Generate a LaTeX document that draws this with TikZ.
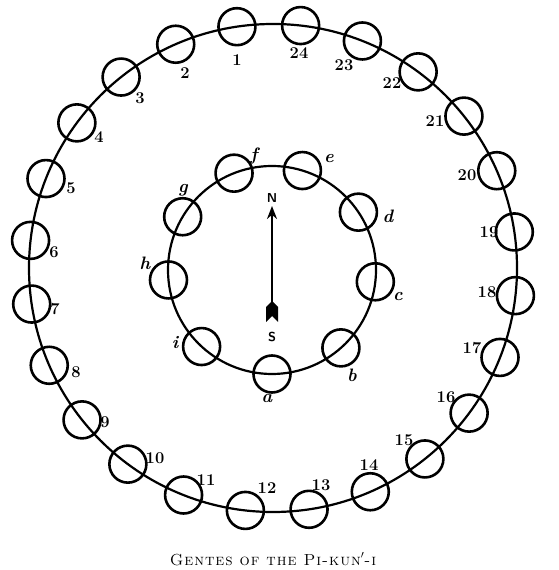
\documentclass[tikz,border=0pt]{standalone}
\usepackage{fontspec}
\newfontfamily\capfont[LetterSpace=6]{lmromancaps10-regular.otf}
\usetikzlibrary{arrows.meta,calc}
\begin{document}
\begin{tikzpicture}[x=1pt,y=1pt,
  gens/.style={circle, draw, line width=2.6pt, minimum size=37pt, inner sep=0pt},
  ring/.style={line width=2.2pt},
  numlab/.style={font=\fontsize{16.5}{16.5}\selectfont\bfseries, inner sep=0pt},
  letlab/.style={font=\fontsize{18}{18}\selectfont\bfseries\itshape, inner sep=0pt},
  dirlab/.style={font=\fontsize{13}{13}\selectfont\sffamily\bfseries, inner sep=0pt},
  caption/.style={font=\fontsize{16}{16}\selectfont\capfont, inner sep=0pt, anchor=base}]
\useasboundingbox (0,0) rectangle (558,570);
\coordinate (OC) at (273,302);
\coordinate (IC) at (272,300);
\draw[ring] (OC) circle (244);
\draw[ring] (IC) circle (104);
% outer gentes
\foreach \k in {1,...,24} {
  \pgfmathsetmacro\ang{98.5+15*(\k-1)}
  \node[gens] (o\k) at ($(OC)+(\ang:244)$) {};
}
\foreach \n/\x/\y in {1/237/60, 2/185/73, 3/140/98, 4/99/137, 5/71/188, 6/54/252,
  7/55/309, 8/76/372, 9/105/422, 10/155/458, 11/206/480, 12/267/488,
  13/321/485, 14/369/465, 15/404/440, 16/446/397, 17/472/348, 18/487/292,
  19/489/232, 20/467/175, 21/435/121, 22/392/83, 23/344/65, 24/299/53} {
  \node[numlab] (l\n) at (\x,{570-\y}) {\n};
}
% inner gentes
\foreach \n/\a in {a/270, b/311.5, c/353.5, d/33.8, e/73, f/111.4, g/149.2, h/185.5, i/227.4} {
  \node[gens] (i\n) at ($(IC)+(\a:104)$) {};
}
\foreach \n/\x/\y in {a/267/399, b/352/375, c/398/297, d/388/216, e/329/159,
  f/254/156, g/183/190, h/145/263, i/175/343} {
  \node[letlab] (m\n) at (\x,{570-\y}) {\n};
}
% compass arrow
\node[dirlab] (N) at (272,372) {N};
\node[dirlab] (S) at (272,233) {S};
\coordinate (tail) at (272,266);
\coordinate (tip) at (272,364);
\draw[line width=2.4pt, -{Stealth[length=13pt,width=10pt]}] (tail) -- (tip);
\fill (266,263) -- (272,269) -- (278,263) -- (278,248) -- (272,254) -- (266,248) -- cycle;
% caption
\node[caption] (cap) at (273,5) {Gentes of the Pi-kun$'$-i};
\end{tikzpicture}
\end{document}
